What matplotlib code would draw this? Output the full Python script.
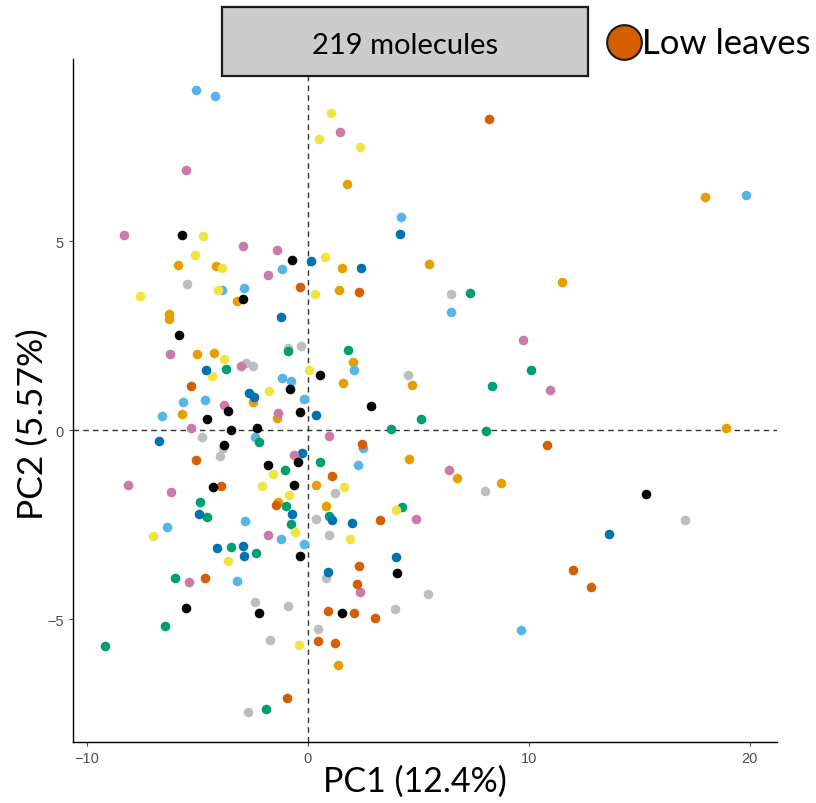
import numpy as np
import matplotlib
matplotlib.use("Agg")
import matplotlib.pyplot as plt
from matplotlib.patches import Rectangle

plt.rcParams['font.family'] = ['Lato', 'DejaVu Sans']

# PCA scores, grouped by colour (Okabe-Ito palette)
black_x = [-5.70, -0.74, -2.94, -5.84, 0.54, -0.81, -3.63, -4.57, -0.36, -3.50, -2.32, -3.81,
           2.85, -0.47, -1.81, -4.31, -0.62, -0.38, 4.03, -5.51, -2.22, 1.54, 15.29]
black_y = [5.16, 4.50, 3.47, 2.51, 1.46, 1.10, 0.52, 0.31, 0.49, 0.00, 0.07, -0.38,
           0.63, -0.83, -0.92, -1.51, -1.46, -3.33, -3.78, -4.71, -4.83, -4.85, -1.69]

orange_x = [-5.88, -4.18, -3.21, -6.29, -6.29, -5.02, -4.25, -2.49, -5.69, -1.39, 1.76, 1.52,
            5.46, 1.39, 2.02, 1.57, 4.69, 11.52, 17.96, 18.93, 0.36, -1.37, 4.58, 6.74,
            8.76, 0.80, 1.36]
orange_y = [4.37, 4.36, 3.42, 3.07, 2.94, 2.01, 2.04, 0.76, 0.42, 0.32, 6.53, 4.30,
            4.39, 3.72, 1.81, 1.24, 1.20, 3.92, 6.18, 0.05, -1.46, -1.91, -0.75, -1.26,
            -1.40, -2.00, -6.21]

yellow_x = [0.51, 1.05, 2.35, -4.75, -5.13, -3.88, -7.62, -4.09, 0.32, 0.77, -3.81, -4.36,
            0.06, -1.75, -1.60, -2.10, -0.85, -7.00, -0.60, -3.61, 1.62, 4.00, 1.91, -0.41]
yellow_y = [7.71, 8.39, 7.51, 5.14, 4.64, 4.30, 3.55, 3.71, 3.62, 4.58, 1.88, 1.43,
            1.59, 1.05, -1.15, -1.47, -1.71, -2.80, -2.69, -3.45, -1.51, -2.12, -2.87, -5.69]

skyblue_x = [-5.05, -4.19, -1.18, -3.90, -2.88, -1.18, -0.77, -0.18, -5.67, -4.66, -6.59,
             -2.40, 4.19, 6.48, 2.07, 2.49, 2.25, 19.83, -2.85, -6.39, -1.21, -0.19, -3.23, 9.64]
skyblue_y = [9.00, 8.85, 4.28, 3.71, 3.76, 1.38, 1.30, 0.84, 0.74, 0.79, 0.37,
             -0.19, 5.64, 3.12, 1.60, -0.48, -0.91, 6.22, -2.40, -2.56, -2.88, -3.02, -3.99, -5.29]

green_x = [-0.90, -3.70, -2.22, 1.82, 7.32, 8.33, 10.10, 5.10, 3.77, 8.07, 0.54, -1.04,
           -4.87, -1.00, -4.58, -0.78, -3.50, -2.35, -6.03, -6.47, -9.19, -1.89, 0.95, 4.25]
green_y = [2.11, 1.61, -0.30, 2.12, 3.63, 1.16, 1.59, 0.30, 0.04, -0.03, -0.84, -1.05,
           -1.90, -2.00, -2.29, -2.48, -3.10, -3.25, -3.92, -5.17, -5.71, -7.39, -2.28, -2.03]

blue_x = [0.14, 2.40, 4.18, -1.24, -4.60, -2.67, -2.44, 0.35, -6.76, -0.26, -4.92, -0.74,
          -4.12, -2.94, -2.91, 1.09, 1.98, 3.98, 0.89, 13.61]
blue_y = [4.48, 4.29, 5.20, 3.01, 1.59, 0.98, 0.87, 0.40, -0.28, -0.59, -2.23, -2.22,
          -3.11, -3.06, -3.33, -2.38, -2.45, -3.35, -3.75, -2.75]

vermillion_x = [8.18, -0.36, 2.32, -5.29, 2.44, 10.81, -5.05, -3.94, -1.46, 1.07, 3.27,
                -4.66, 2.29, 2.20, 0.93, 2.09, 3.05, 0.47, 1.22, -0.96, 11.98, 12.79]
vermillion_y = [8.25, 3.80, 3.66, 1.16, -0.37, -0.38, -0.80, -1.47, -1.97, -1.21, -2.38,
                -3.92, -3.59, -4.07, -4.78, -4.85, -4.98, -5.59, -5.63, -7.09, -3.70, -4.16]

pink_x = [-5.52, 1.46, -8.33, -2.93, -1.39, -1.82, -6.24, -3.03, -3.79, -1.37, -5.29, 9.74,
          10.94, 0.95, -0.62, -8.14, -6.19, -1.80, -5.38, 6.37, 4.89, 2.34]
pink_y = [6.88, 7.90, 5.16, 4.89, 4.77, 4.11, 2.01, 1.69, 0.67, 0.45, 0.06, 2.39,
          1.07, -0.15, -0.65, -1.45, -1.63, -2.76, -4.02, -1.05, -2.36, -4.28]

grey_x = [-5.46, -2.82, -2.50, -0.90, -0.33, -4.78, -3.85, -3.97, 6.48, 4.51, 0.36, 1.21,
          0.95, 0.81, 8.02, 17.06, 5.42, -2.40, -0.90, 3.94, 0.45, -1.71, -2.71]
grey_y = [3.86, 1.79, 1.69, 2.19, 2.24, -0.17, -0.48, -0.68, 3.60, 1.45, -2.35, -1.65,
          -2.78, -3.92, -1.61, -2.38, -4.34, -4.54, -4.66, -4.74, -5.27, -5.56, -7.45]

groups = [
    (grey_x, grey_y, '#BEBEBE'),
    (orange_x, orange_y, '#E69F00'),
    (skyblue_x, skyblue_y, '#56B4E9'),
    (green_x, green_y, '#009E73'),
    (yellow_x, yellow_y, '#F0E442'),
    (blue_x, blue_y, '#0072B2'),
    (pink_x, pink_y, '#CC79A7'),
    (vermillion_x, vermillion_y, '#D55E00'),
    (black_x, black_y, '#000000'),
]

fig = plt.figure(figsize=(8.16, 8.04), dpi=100)
ax = fig.add_axes([0.0895, 0.076, 0.8625, 0.849])

ax.axhline(0, color='#333333', ls=(0, (4, 3)), lw=1, zorder=1)
ax.axvline(0, color='#333333', ls=(0, (4, 3)), lw=1, zorder=1)

for gx, gy, col in groups:
    ax.scatter(gx, gy, s=48, color=col, linewidths=0, zorder=2)

ax.set_xlim(-10.63, 21.22)
ax.set_ylim(-8.25, 9.82)
ax.set_xticks([-10, 0, 10, 20])
ax.set_yticks([-5, 0, 5])
ax.tick_params(colors='#4D4D4D', labelsize=10.5, length=3, width=0.8)
for lab in ax.get_xticklabels() + ax.get_yticklabels():
    lab.set_family('Liberation Sans')
for s in ['top', 'right']:
    ax.spines[s].set_visible(False)
for s in ['left', 'bottom']:
    ax.spines[s].set_linewidth(1.0)

ax.set_xlabel('PC1 (12.4%)', fontsize=24.5)
ax.set_ylabel('PC2 (5.57%)', fontsize=25.5)
ax.xaxis.set_label_coords(0.486, -0.034)
ax.yaxis.set_label_coords(-0.034, 0.467)

# facet strip
fig.add_artist(Rectangle((0.272, 0.904), 0.449, 0.086, transform=fig.transFigure,
                         facecolor='#CCCCCC', edgecolor='#1A1A1A', lw=1.6, zorder=5))
fig.text(0.496, 0.943, '219 molecules', ha='center', va='center', fontsize=21, zorder=6)

# legend
fig.add_artist(plt.Line2D([0.765], [0.947], marker='o', markersize=25,
                          markerfacecolor='#D55E00', markeredgecolor='#1A1A1A',
                          markeredgewidth=1.5, transform=fig.transFigure))
fig.text(0.787, 0.945, 'Low leaves', ha='left', va='center', fontsize=25)

fig.savefig('out.png', dpi=100)
